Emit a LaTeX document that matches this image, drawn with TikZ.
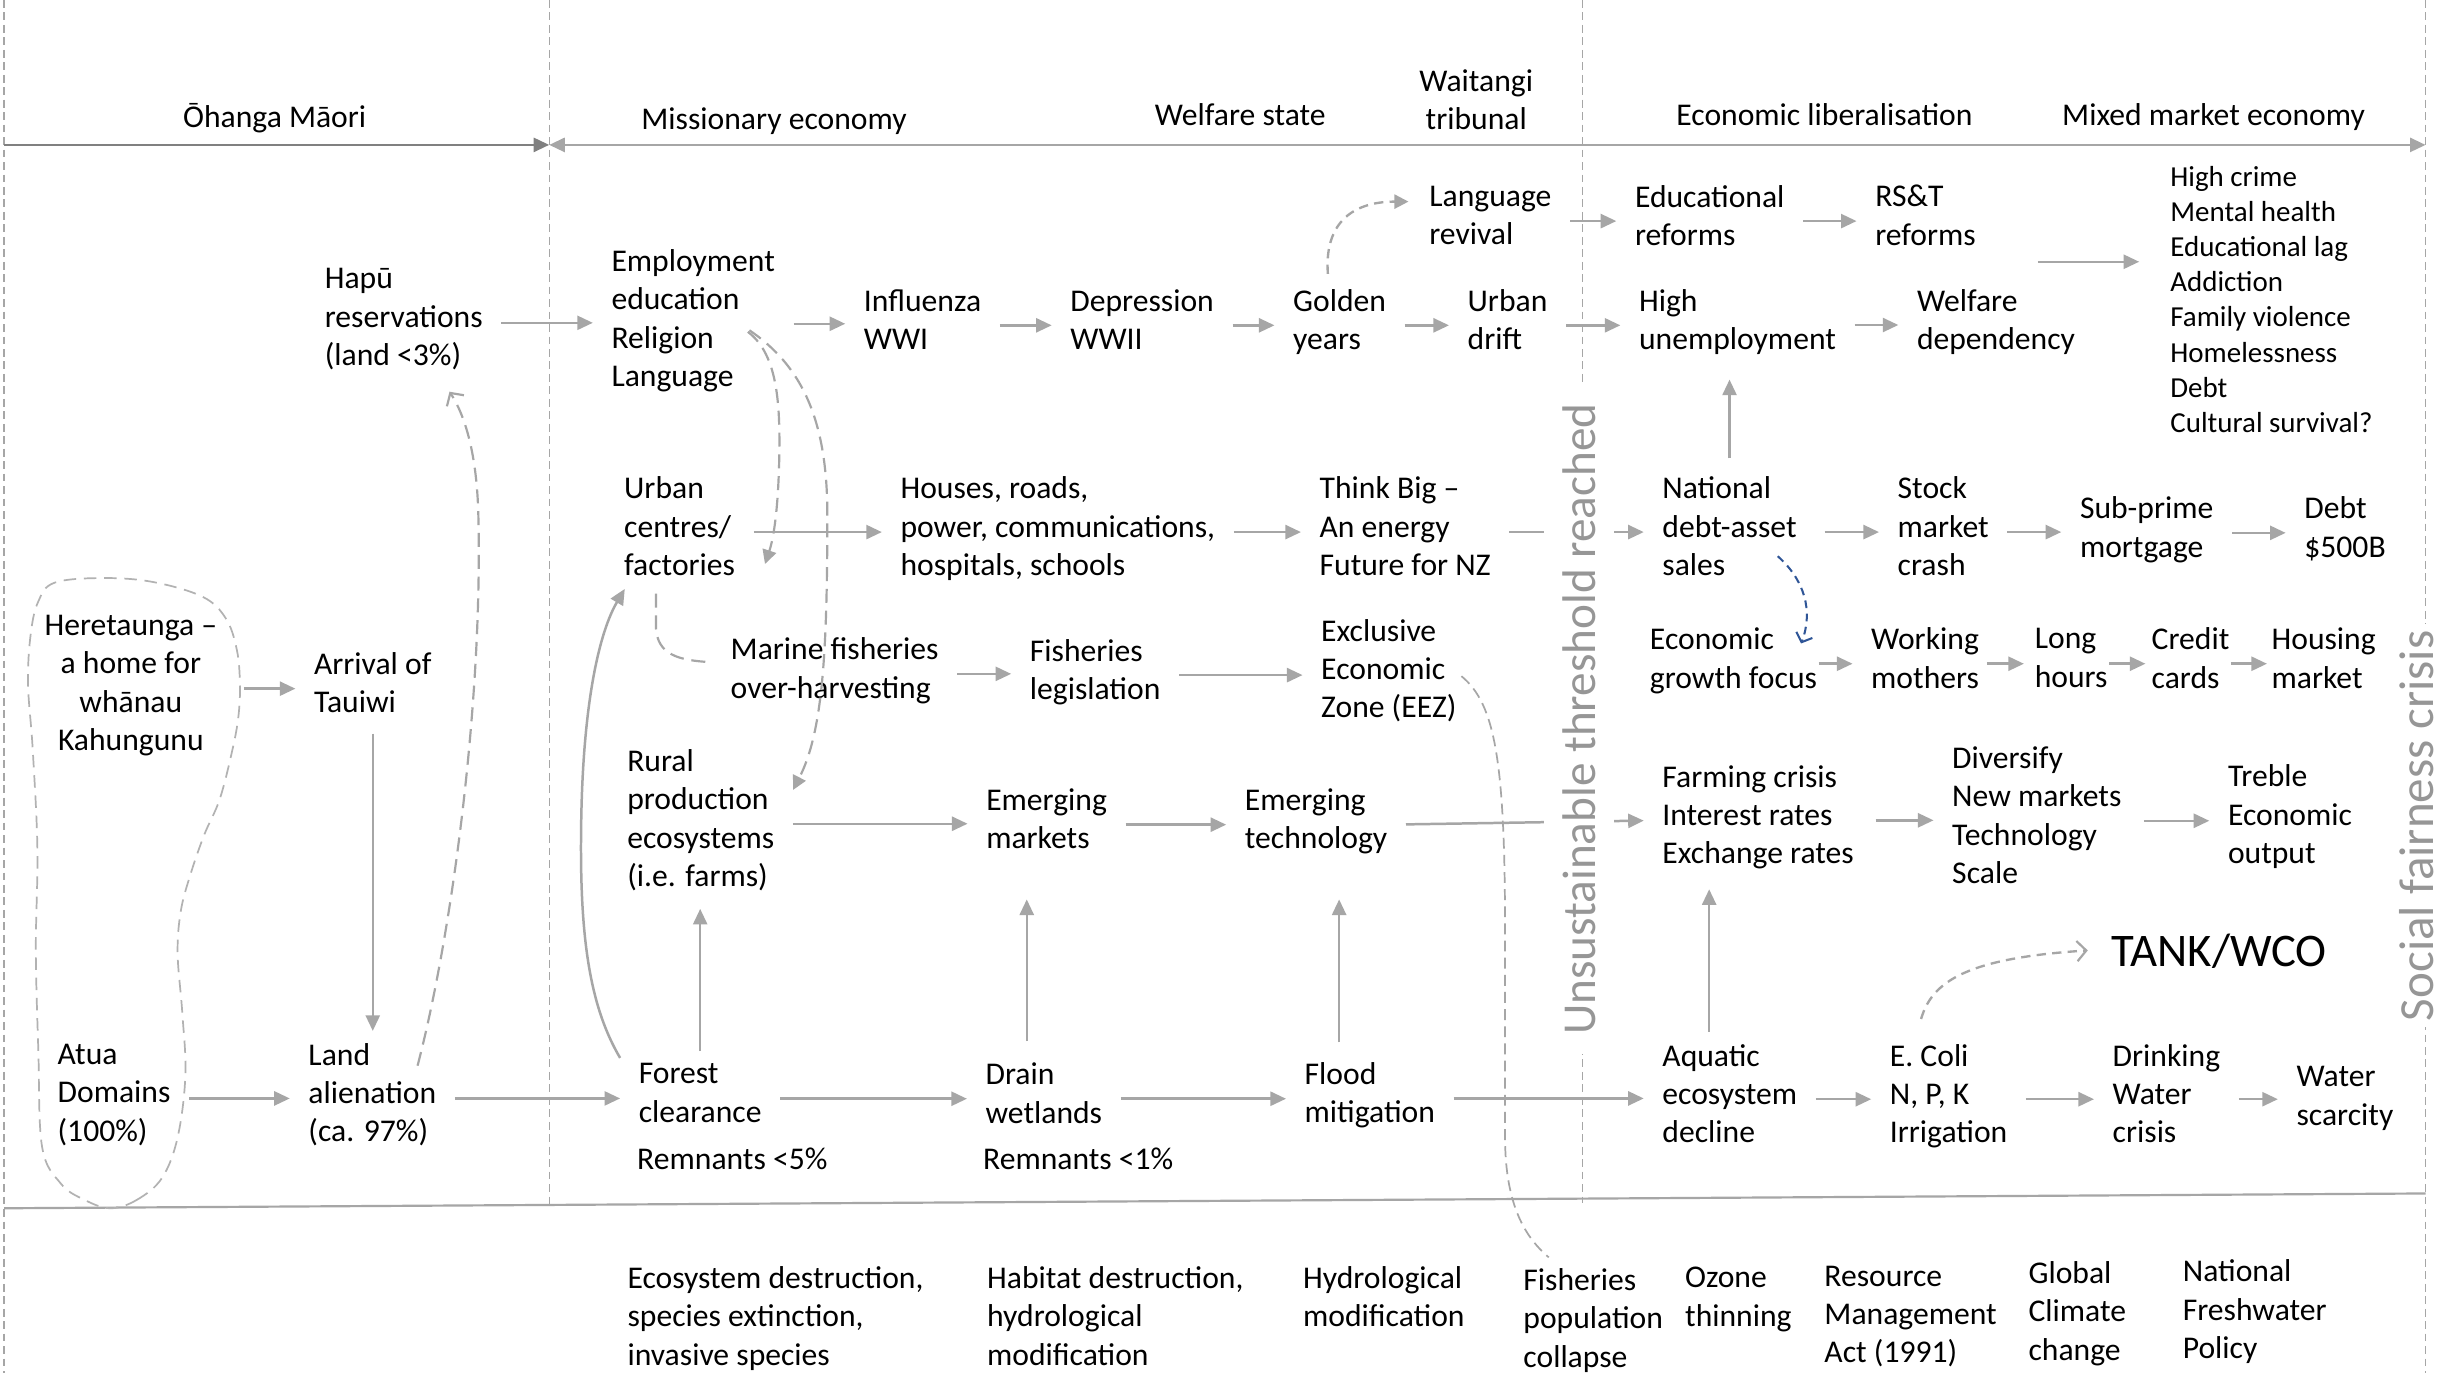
\documentclass[tikz,border=0pt]{standalone}
\usepackage{fontspec}
\setmainfont{Carlito}
\usetikzlibrary{arrows.meta}
\definecolor{agray}{RGB}{166,166,166}
\definecolor{dgray}{RGB}{128,128,128}
\definecolor{lgray}{RGB}{178,178,178}
\definecolor{rgray}{RGB}{150,150,150}
\definecolor{dblue}{RGB}{47,85,151}
\newcommand{\bodyfont}{\fontsize{20.3}{24.6}\selectfont}
\newcommand{\listfont}{\fontsize{18.6}{22.6}\selectfont}
\begin{document}
\begin{tikzpicture}[x=1pt,y=-1pt,
  txt/.style={anchor=west, align=left, inner sep=0pt, outer sep=0pt, font=\bodyfont, yshift=-3pt,
    execute at begin node=\strut, execute at end node=\strut},
  hdr/.style={anchor=center, align=center, inner sep=0pt, font=\bodyfont, yshift=-1pt,
    execute at begin node=\strut, execute at end node=\strut},
  arr/.style={draw=agray, line width=1.6pt, -{Triangle[length=10pt,width=9pt]},
    shorten <=12pt, shorten >=12pt},
  carr/.style={draw=agray, line width=1.6pt, -{Triangle[length=10pt,width=9pt]}},
  dsh/.style={draw=agray, line width=1.4pt, dash pattern=on 9pt off 5pt},
  dshf/.style={dsh, -{Triangle[length=9pt,width=9pt]}},
  dsho/.style={dsh, -{Straight Barb[length=6pt,width=13pt,line width=1.4pt]}},
  secline/.style={draw=agray, line width=0.8pt, dash pattern=on 5pt off 3pt},
  rot/.style={rotate=90, anchor=base, fill=white, text=rgray}
]
\useasboundingbox (0,0) rectangle (1568,881);
\fill[white] (0,0) rectangle (1568,881);

% section lines
\coordinate (v0t) at (2.6,0);     \coordinate (v0b) at (2.6,881);
\coordinate (v1t) at (352.5,0);   \coordinate (v1b) at (352.5,774);
\coordinate (v2t) at (1015.5,0);  \coordinate (v2b) at (1015.5,772);
\coordinate (v3t) at (1556.8,0);  \coordinate (v3b) at (1556.8,881);
\draw[secline] (v0t) -- (v0b);
\draw[secline] (v1t) -- (v1b);
\draw[secline] (v2t) -- (v2b);
\draw[secline] (v3t) -- (v3b);

% header timeline
\coordinate (hl0) at (2.6,93); \coordinate (hl1) at (352.5,93); \coordinate (hl2) at (1556.8,93);
\draw[dgray, line width=1.7pt, -{Triangle[length=10pt,width=9pt]}] (hl0) -- (hl1);
\draw[agray, line width=1.7pt, {Triangle[length=10pt,width=9pt]}-{Triangle[length=10pt,width=9pt]}] (hl1) -- (hl2);
% bottom line
\coordinate (bl0) at (2.6,775.5); \coordinate (bl1) at (1556.8,766);
\draw[agray, line width=1.4pt] (bl0) -- (bl1);

% header labels
\node[hdr] (h1) at (176.3,75.9) {Ōhanga Māori};
\node[hdr] (h2) at (496.8,77) {Missionary economy};
\node[hdr] (h3) at (796,74.8) {Welfare state};
\node[hdr] (h4) at (947.5,66.7) {Waitangi\\tribunal};
\node[hdr] (h5) at (1171,74.8) {Economic liberalisation};
\node[hdr] (h6) at (1420.7,74.8) {Mixed market economy};

% nodes
\node[txt] (hapu) at (208.5,204.2) {Hapū\\reservations\\(land <3\%)};
\node[hdr] (here) at (84,441) {Heretaunga –\\a home for\\whānau\\Kahungunu};
\node[txt] (arriv) at (201.6,438.8) {Arrival of\\Tauiwi};
\node[txt] (atua) at (37,702) {Atua\\Domains\\(100\%)};
\node[txt] (land) at (198,702) {Land\\alienation\\(ca. 97\%)};

\node[txt] (emp) at (392.5,204.8) {Employment\\education\\Religion\\Language};
\node[txt] (urb) at (400.6,338.5) {Urban\\centres/\\factories};
\node[txt] (mar) at (469,429.5) {Marine fisheries\\over-harvesting};
\node[txt] (rur) at (402.6,525.7) {Rural\\production\\ecosystems\\(i.e. farms)};
\node[txt] (forest) at (410,702.2) {Forest\\clearance};
\node[txt] (rem5) at (409,742.5) {Remnants <5\%};

\node[txt] (infl) at (554.5,205.8) {Influenza\\WWI};
\node[txt] (dep) at (687,205.8) {Depression\\WWII};
\node[txt] (gold) at (830,205.8) {Golden\\years};
\node[txt] (udrift) at (942,205.8) {Urban\\drift};
\node[txt] (lang) at (917.4,138.9) {Language\\revival};
\node[txt] (houses) at (578,338.5) {Houses, roads,\\power, communications,\\hospitals, schools};
\node[txt] (think) at (847,338.5) {Think Big –\\An energy\\Future for NZ};
\node[txt] (fleg) at (661,430.3) {Fisheries\\legislation};
\node[txt] (eez) at (848,429.8) {Exclusive\\Economic\\Zone (EEZ)};
\node[txt] (emk) at (633,526.3) {Emerging\\markets};
\node[txt] (etech) at (799,526.3) {Emerging\\technology};
\node[txt] (drain) at (632.6,702.2) {Drain\\wetlands};
\node[txt] (rem1) at (631,742.5) {Remnants <1\%};
\node[txt] (flood) at (837.4,702) {Flood\\mitigation};

\node[txt] (edref) at (1049.4,138.9) {Educational\\reforms};
\node[txt] (rst) at (1203.6,138.9) {RS\&T\\reforms};
\node[txt] (highu) at (1052,205.6) {High\\unemployment};
\node[txt] (welf) at (1230.4,205.6) {Welfare\\dependency};
\node[txt, font=\listfont] (list) at (1393,192.5) {High crime\\Mental health\\Educational lag\\Addiction\\Family violence\\Homelessness\\Debt\\Cultural survival?};
\node[txt] (natl) at (1067,338.5) {National\\debt-asset\\sales};
\node[txt] (stock) at (1218,338.5) {Stock\\market\\crash};
\node[txt] (subp) at (1335,339) {Sub-prime\\mortgage};
\node[txt] (debt) at (1479,339) {Debt\\\$500B};
\node[txt] (egf) at (1059,423) {Economic\\growth focus};
\node[txt] (work) at (1201,423) {Working\\mothers};
\node[txt] (long) at (1306,423) {Long\\hours};
\node[txt] (credit) at (1381,423) {Credit\\cards};
\node[txt] (housing) at (1458,423) {Housing\\market};
\node[txt] (farm) at (1067,523.5) {Farming crisis\\Interest rates\\Exchange rates};
\node[txt] (divers) at (1253,523.8) {Diversify\\New markets\\Technology\\Scale};
\node[txt] (treble) at (1430,523.3) {Treble\\Economic\\output};
\node[anchor=base west, inner sep=0pt, font=\fontsize{30}{36}\selectfont] (tank) at (1355,620.5) {TANK/WCO};
\node[txt] (aqua) at (1067,702.5) {Aquatic\\ecosystem\\decline};
\node[txt] (ecoli) at (1213,702.5) {E. Coli\\N, P, K\\Irrigation};
\node[txt] (drink) at (1356,702.5) {Drinking\\Water\\crisis};
\node[txt] (water) at (1474,704) {Water\\scarcity};

% bottom row
\node[txt] (b1) at (402.8,845.3) {Ecosystem destruction,\\species extinction,\\invasive species};
\node[txt] (b2) at (633.6,845.3) {Habitat destruction,\\hydrological\\modification};
\node[txt] (b3) at (836.4,833) {Hydrological\\modification};
\node[txt] (b4) at (977.8,846.5) {Fisheries\\population\\collapse};
\node[txt] (b5) at (1081.6,833) {Ozone\\thinning};
\node[txt] (b6) at (1171,844.2) {Resource\\Management\\Act (1991)};
\node[txt] (b7) at (1302,842) {Global\\Climate\\change};
\node[txt] (b8) at (1401,841) {National\\Freshwater\\Policy};

% dashed blob around Heretaunga and Atua
\draw[draw=lgray, line width=1.1pt, dash pattern=on 8pt off 5pt]
  plot[smooth cycle, tension=0.6] coordinates {(71,775.5) (88,770) (104,756) (114,730) (119,690) (117,650) (114,612) (116,585) (122,562) (131,536) (141,513) (149,482) (153,460) (154,439) (152,417) (145,397) (130,383) (98,373.5) (65.6,371) (35,374) (24.6,386) (19.7,407) (18,439) (21,481) (24,545) (23,610) (24.6,674) (27,736) (39,759.6) (54,770)};

% straight arrows
\draw[arr] (hapu.east) -- (hapu.east -| emp.west);
\draw[arr, shorten <=17pt] (here.east) -- (here.east -| arriv.west);
\draw[arr, shorten <=6pt, shorten >=8pt] (arriv.south) -- (arriv.south |- land.north);
\draw[arr] (atua.east) -- (atua.east -| land.west);
\draw[arr] (land.east) -- (land.east -| forest.west);
\draw[arr] (emp.east) -- (emp.east -| infl.west);
\draw[arr] (infl.east) -- (infl.east -| dep.west);
\draw[arr] (dep.east) -- (dep.east -| gold.west);
\draw[arr] (gold.east) -- (gold.east -| udrift.west);
\draw[arr] (udrift.east) -- (udrift.east -| highu.west);
\draw[arr] (highu.east) -- (highu.east -| welf.west);
\draw[arr] (lang.east) -- (lang.east -| edref.west);
\draw[arr] (edref.east) -- (edref.east -| rst.west);
\coordinate (lsrc) at (1308,168);
\draw[arr, shorten <=0pt, shorten >=20pt] (lsrc) -- (lsrc -| list.west);
\draw[arr] (natl.north) -- (natl.north |- highu.south);
\draw[arr] (urb.east) -- (urb.east -| houses.west);
\draw[arr] (houses.east) -- (houses.east -| think.west);
\draw[arr] (think.east) -- (think.east -| natl.west);
\draw[arr, shorten <=18pt] (natl.east) -- (natl.east -| stock.west);
\draw[arr] (stock.east) -- (stock.east -| subp.west);
\draw[arr] (subp.east) -- (subp.east -| debt.west);
\draw[arr] (mar.east) -- (mar.east -| fleg.west);
\draw[arr] (fleg.east) -- (fleg.east -| eez.west);
\draw[arr, shorten <=1pt] (egf.east) -- (egf.east -| work.west);
\draw[arr, shorten <=5pt, shorten >=7pt] (work.east) -- (work.east -| long.west);
\draw[arr, shorten <=1pt, shorten >=4pt] (long.east) -- (long.east -| credit.west);
\draw[arr, shorten <=1pt, shorten >=3pt] (credit.east) -- (credit.east -| housing.west);
\draw[arr] (rur.east) -- (rur.east -| emk.west);
\draw[arr] (emk.east) -- (emk.east -| etech.west);
\draw[arr] (etech.east) -- (farm.west);
\draw[arr, shorten <=14pt] (farm.east) -- (farm.east -| divers.west);
\draw[arr, shorten <=14.5pt] (divers.east) -- (divers.east -| treble.west);
\draw[arr, shorten <=8pt, shorten >=7pt] (forest.north) -- (forest.north |- rur.south);
\draw[arr, shorten <=14pt, shorten >=25pt] (drain.north -| 659,0) -- (emk.south -| 659,0);
\draw[arr, shorten <=13pt, shorten >=25pt] (flood.north -| 859.5,0) -- (etech.south -| 859.5,0);
\draw[arr, shorten <=8pt, shorten >=9pt] (aqua.north -| 1097,0) -- (farm.south -| 1097,0);
\draw[arr] (forest.east) -- (forest.east -| drain.west);
\draw[arr] (drain.east) -- (drain.east -| flood.west);
\draw[arr] (flood.east) -- (flood.east -| aqua.west);
\draw[arr] (aqua.east) -- (aqua.east -| ecoli.west);
\draw[arr] (ecoli.east) -- (ecoli.east -| drink.west);
\draw[arr] (drink.east) -- (drink.east -| water.west);

% curved connectors
\draw[carr] (398,679) .. controls (378,645) and (372,600) .. (373,530)
  .. controls (374,450) and (385,405) .. (401,378);
\draw[dsho] (268,684) .. controls (290,600) and (310,450) .. (307,330)
  .. controls (306,290) and (298,266) .. (288.5,251.4);
\draw[dshf, line width=1.5pt, dash pattern=on 6pt off 4pt, shorten <=10pt, shorten >=13.4pt]
  (gold.north -| 853,0) .. controls (850,145) and (866,129.4) .. (lang.west |- 0,129.4);
\draw[dshf] (480,213) .. controls (500,228) and (501,262) .. (500,300)
  .. controls (499,332) and (496,347) .. (491,362);
\draw[dshf] (481,212) .. controls (515,235) and (531,270) .. (531,330)
  .. controls (531,420) and (528,470) .. (509,507);
\draw[dsh] (421,381) -- (421,403) .. controls (422,420) and (435,424) .. (457,425);
\draw[draw=agray, line width=1.1pt, dash pattern=on 7pt off 4pt]
  (938,434) .. controls (960,452) and (966,490) .. (966,600) -- (966,730)
  .. controls (966,775) and (980,795) .. (994,807);
\draw[dblue, line width=1.3pt, dash pattern=on 5pt off 3.5pt,
  -{Straight Barb[length=5pt,width=11pt,line width=1.3pt]}]
  (1141,357) .. controls (1158,372) and (1164,392) .. (1156,413);
\draw[dsho, line width=1.5pt, dash pattern=on 6pt off 4pt]
  (1233,654) .. controls (1240,630) and (1262,615) .. (1340,610);

% rotated labels
\node[rot, inner xsep=12pt, inner ysep=12pt, font=\fontsize{30.3}{36}\selectfont] (unsus) at (1024,461.5) {Unsustainable threshold reached};
\node[rot, inner xsep=4pt, inner ysep=3pt, font=\fontsize{31.5}{38}\selectfont] (social) at (1562,530) {Social fairness crisis};
\end{tikzpicture}
\end{document}
